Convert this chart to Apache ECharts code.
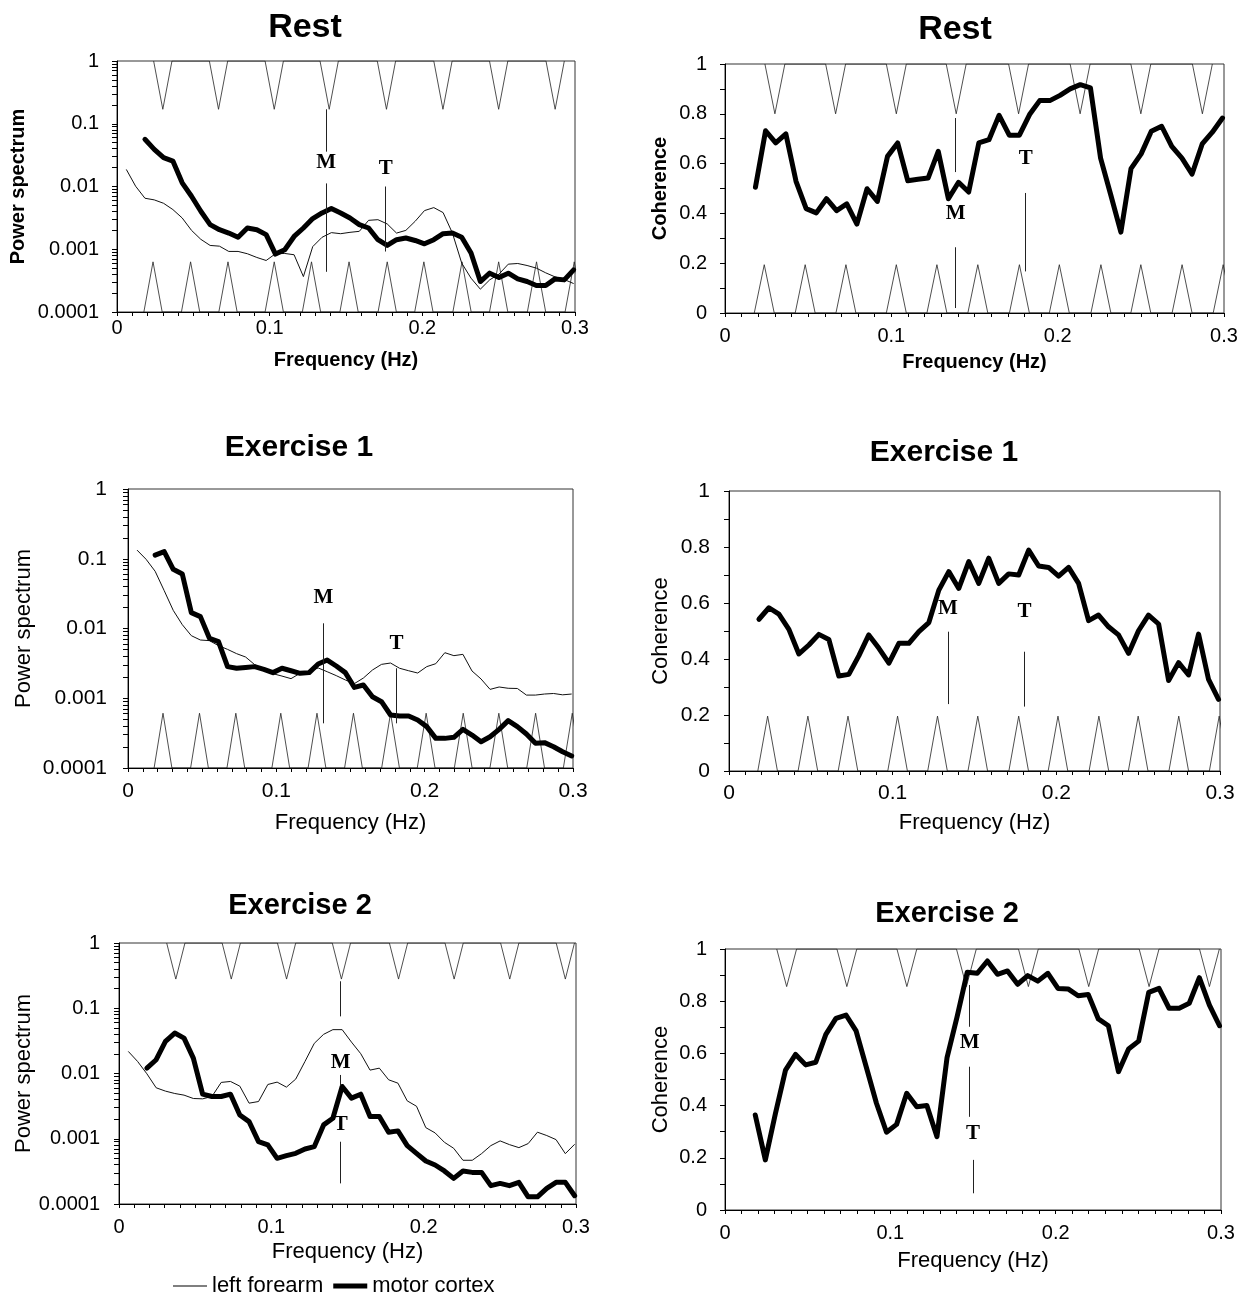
<!DOCTYPE html>
<html><head><meta charset="utf-8">
<script src="https://cdn.jsdelivr.net/npm/echarts@6/dist/echarts.min.js"></script>
<style>html,body{margin:0;padding:0;background:#fff}#c{width:1244px;height:1296px}</style>
</head><body><div id="c"></div>
<script>
// ---------- data ----------
const freqs = [0.0061,0.0122,0.0183,0.0244,0.0305,0.0366,0.0427,0.0488,0.0549,0.0610,0.0671,0.0732,0.0793,0.0854,0.0916,0.0977,0.1038,0.1099,0.1160,0.1221,0.1282,0.1343,0.1404,0.1465,0.1526,0.1587,0.1648,0.1709,0.1770,0.1831,0.1892,0.1953,0.2014,0.2075,0.2136,0.2197,0.2258,0.2319,0.2380,0.2441,0.2502,0.2563,0.2625,0.2686,0.2747,0.2808,0.2869,0.2930,0.2991];

const restPowerForearm = [0.0187,0.0101,0.0065,0.00612,0.0054,0.00429,0.00315,0.002,0.00144,0.00115,0.00112,0.000923,0.000923,0.000848,0.00074,0.000662,0.000848,0.000857,0.000817,0.000367,0.0011,0.00155,0.00184,0.00177,0.00186,0.00193,0.00289,0.00296,0.00253,0.00181,0.002,0.00279,0.00413,0.00461,0.00384,0.00181,0.000601,0.000346,0.000231,0.000325,0.000401,0.000579,0.000593,0.000551,0.0005,0.000421,0.000363,0.000329,0.000284];
const restPowerCortex = [null,null,0.0565,0.0391,0.0288,0.0254,0.01145,0.0070,0.00403,0.00247,0.00205,0.00181,0.00155,0.00218,0.00205,0.00171,0.000837,0.000982,0.0016,0.00218,0.00308,0.00379,0.00445,0.00379,0.00315,0.00247,0.00218,0.00142,0.00115,0.00142,0.00151,0.00138,0.00122,0.00142,0.00177,0.00181,0.00155,0.000869,0.000306,0.000416,0.000354,0.000416,0.000337,0.000306,0.000264,0.000264,0.000337,0.000325,0.00047];
const restCoherence = [null,null,0.505,0.732,0.683,0.719,0.529,0.419,0.402,0.459,0.411,0.438,0.357,0.499,0.448,0.629,0.683,0.531,0.537,0.542,0.649,0.459,0.525,0.486,0.683,0.696,0.794,0.714,0.714,0.797,0.853,0.853,0.874,0.900,0.917,0.904,0.622,0.475,0.325,0.580,0.639,0.730,0.750,0.669,0.622,0.558,0.679,0.726,0.783];

const ex1PowerForearm = [0.133,0.0982,0.0661,0.0349,0.0182,0.01135,0.00789,0.00684,0.0067,0.00568,0.00502,0.00436,0.0039,0.00303,0.00254,0.00225,0.00208,0.00191,0.00228,0.00243,0.00272,0.0024,0.00211,0.00183,0.00162,0.00195,0.00254,0.00306,0.0032,0.00269,0.00248,0.0023,0.00284,0.00313,0.0045,0.00408,0.00426,0.00246,0.00189,0.00134,0.00145,0.00139,0.00138,0.00111,0.00111,0.00115,0.00117,0.00112,0.00115];
const ex1PowerCortex = [null,null,0.113,0.1264,0.0705,0.0604,0.01687,0.01479,0.00723,0.00647,0.00284,0.00269,0.00277,0.00284,0.0026,0.00233,0.00269,0.00248,0.00228,0.00233,0.0031,0.00353,0.0029,0.00233,0.00143,0.00155,0.00105,0.000893,0.000575,0.000556,0.000556,0.000488,0.000392,0.000266,0.000266,0.000275,0.000358,0.000297,0.000238,0.000281,0.000358,0.000478,0.000392,0.000307,0.000226,0.000231,0.000202,0.000171,0.000149];
const ex1Coherence = [null,null,0.542,0.583,0.560,0.506,0.418,0.450,0.488,0.470,0.339,0.345,0.411,0.486,0.438,0.385,0.456,0.456,0.498,0.530,0.646,0.712,0.652,0.748,0.670,0.760,0.670,0.704,0.700,0.789,0.732,0.727,0.696,0.727,0.670,0.537,0.557,0.515,0.486,0.420,0.501,0.557,0.525,0.323,0.387,0.343,0.489,0.327,0.256];

const ex2PowerForearm = [0.0218,0.0153,0.0099,0.00604,0.00537,0.00494,0.00466,0.00414,0.00409,0.00444,0.0073,0.00755,0.0064,0.00351,0.00372,0.00679,0.00738,0.00618,0.0082,0.0153,0.029,0.0398,0.047,0.047,0.0303,0.0201,0.01127,0.01208,0.00801,0.00711,0.00381,0.00315,0.00148,0.00123,0.000883,0.000714,0.000468,0.000468,0.000591,0.000785,0.000927,0.000813,0.000731,0.000843,0.00126,0.00112,0.00097,0.000591,0.000822];
const ex2PowerCortex = [null,null,0.01208,0.01625,0.031,0.0417,0.0349,0.0172,0.00482,0.00444,0.00444,0.00482,0.00232,0.00183,0.000904,0.000804,0.000501,0.000551,0.000598,0.000697,0.000757,0.00163,0.00206,0.00632,0.00419,0.00482,0.00219,0.00219,0.00126,0.00132,0.000785,0.000598,0.000456,0.000396,0.000321,0.000247,0.000321,0.000305,0.000305,0.000191,0.000207,0.000191,0.000215,0.000129,0.000129,0.000174,0.000215,0.000215,0.000134];
const ex2Coherence = [null,null,0.364,0.192,0.370,0.536,0.596,0.556,0.566,0.673,0.734,0.747,0.686,0.549,0.409,0.298,0.328,0.447,0.396,0.400,0.281,0.584,0.741,0.911,0.907,0.954,0.903,0.916,0.865,0.898,0.877,0.907,0.849,0.847,0.821,0.826,0.732,0.706,0.530,0.617,0.647,0.834,0.849,0.773,0.773,0.792,0.890,0.785,0.706];

// periodic marker triangles (apex frequencies)
const heartFreqs = [0.0236,0.0482,0.0727,0.103,0.1274,0.152,0.177,0.201,0.226,0.25,0.2748,0.2995];
const respFreqsRest = [0.030,0.0665,0.103,0.139,0.1765,0.2135,0.250,0.287];
const respFreqsEx2 = [0.0373,0.0737,0.110,0.146,0.1835,0.220,0.2565,0.293];

// M / T annotation frequencies per panel
const markFreqRestPower = [0.137, 0.176];
const markFreqRestCoh = [0.1387, 0.1808];
const markFreqEx1Power = [0.1317, 0.181];
const markFreqEx1Coh = [0.1338, 0.1806];
const markFreqEx2Power = [0.1455, 0.1455];
const markFreqEx2Coh = [0.148, 0.150];

// tick labels
const freqTickLabels = ['0','0.1','0.2','0.3'];
const powerTickLabels = ['0.0001','0.001','0.01','0.1','1'];
const coherenceTickLabels = ['0','0.2','0.4','0.6','0.8','1'];
const powerDecades = [0.0001,0.001,0.01,0.1];
const powerMinorMult = [1,2,3,4,5,6,7,8,9];

// ---------- layout / style ----------
const FONT = 'Liberation Sans';
const panels = [
  {kind:'power', grid:[117,61,458,251], title:'Rest', tx:300, ty:6, ts:34, bold:true, ns:20, ls:20,
   yGap:89, xGap:38, xLm:6, yLm:18, thin:restPowerForearm, thick:restPowerCortex,
   top:respFreqsRest, topApex:0.17, bottom:heartFreqs, bottomApex:0.00063,
   mf:markFreqRestPower,
   marks:[{t:'M', at:0.0237, segs:[[0.17,0.0359],[0.0112,0.000437]]},{t:'T', at:0.0195, segs:[[0.01,0.00092]]}]},
  {kind:'coh', grid:[725,64,499,249], title:'Rest', tx:950, ty:8, ts:34, bold:true, ns:20, ls:20,
   yGap:55, xGap:39, xLm:13, yLm:18, thick:restCoherence,
   top:respFreqsRest, topApex:0.8, bottom:heartFreqs, bottomApex:0.194,
   mf:markFreqRestCoh,
   marks:[{t:'M', at:0.398, segs:[[0.783,0.566],[0.264,0.02]]},{t:'T', at:0.62, segs:[[0.482,0.167]]}]},
  {kind:'power', grid:[128,489,445,279], title:'Exercise 1', tx:294, ty:428, ts:30, bold:false, ns:22, ls:21,
   yGap:93, xGap:44, xLm:13, yLm:21, thin:ex1PowerForearm, thick:ex1PowerCortex,
   top:null, bottom:heartFreqs, bottomApex:0.00061,
   mf:markFreqEx1Power,
   marks:[{t:'M', at:0.0274, segs:[[0.01187,0.000437]]},{t:'T', at:0.006, segs:[[0.00269,0.000437]]}]},
  {kind:'coh', grid:[729,491,491,280], title:'Exercise 1', tx:939, ty:433, ts:30, bold:false, ns:22, ls:21,
   yGap:57, xGap:41, xLm:12, yLm:19, thick:ex1Coherence,
   top:null, bottom:heartFreqs, bottomApex:0.196,
   mf:markFreqEx1Coh,
   marks:[{t:'M', at:0.579, segs:[[0.4975,0.239]]},{t:'T', at:0.571, segs:[[0.426,0.23]]}]},
  {kind:'power', grid:[119,943,457,261], title:'Exercise 2', tx:295, ty:886, ts:29, bold:false, ns:22, ls:20,
   yGap:84, xGap:37, xLm:13, yLm:19, thin:ex2PowerForearm, thick:ex2PowerCortex,
   top:respFreqsEx2, topApex:0.28, bottom:null,
   mf:markFreqEx2Power,
   marks:[{t:'M', at:0.0146, segs:[[0.259,0.0751],[0.0095,0.0065]]},{t:'T', at:0.00163, segs:[[0.0009,0.000207]]}]},
  {kind:'coh', grid:[725,949,496,261], title:'Exercise 2', tx:942, ty:894, ts:29, bold:false, ns:22, ls:20,
   yGap:53, xGap:40, xLm:13, yLm:18, thick:ex2Coherence,
   top:respFreqsEx2, topApex:0.856, bottom:null,
   mf:markFreqEx2Coh,
   marks:[{t:'M', at:0.64, segs:[[0.862,0.702],[0.549,0.357]]},{t:'T', at:0.294, segs:[[0.192,0.064]]}]}
];

const HALF_W = 0.006;
function pairs(vals){ const out=[]; vals.forEach((v,i)=>{ if(v!=null) out.push([freqs[i], v]); }); return out; }
function triangles(apexes, base, peak){ const pts=[]; apexes.forEach(f=>{ pts.push([f-HALF_W,base],[f,peak],[f+HALF_W,base]); }); return pts; }

const powerTickValues = [];
powerDecades.forEach(d=>powerMinorMult.forEach(m=>powerTickValues.push(+(d*m).toPrecision(3))));
powerTickValues.push(1);

const grids=[], xAxes=[], yAxes=[], series=[], titles=[];
panels.forEach((p,i)=>{
  grids.push({left:p.grid[0], top:p.grid[1], width:p.grid[2], height:p.grid[3], show:true, borderColor:'#333', borderWidth:1, backgroundColor:'transparent'});
  titles.push({text:p.title, left:p.tx, top:p.ty, textAlign:'center', textStyle:{fontFamily:FONT, fontWeight:'bold', fontSize:p.ts, color:'#000'}});
  const nameStyle = {fontFamily:FONT, fontSize:p.ns, fontWeight:p.bold?'bold':'normal', color:'#000'};
  xAxes.push({type:'value', gridIndex:i, min:0, max:0.3, interval:0.1,
    name:'Frequency (Hz)', nameLocation:'middle', nameGap:p.xGap, nameTextStyle:nameStyle,
    axisLine:{show:true, onZero:false, lineStyle:{color:'#000', width:1}},
    axisTick:{show:true, length:4, lineStyle:{color:'#000'}},
    minorTick:{show:true, splitNumber:10, length:4, lineStyle:{color:'#000'}},
    splitLine:{show:false}, minorSplitLine:{show:false},
    axisLabel:{margin:p.xLm, fontFamily:FONT, fontSize:p.ls, color:'#000',
      formatter:v=>freqTickLabels[Math.round(v/0.1)]}});
  if(p.kind==='power'){
    yAxes.push({type:'log', logBase:10, gridIndex:i, min:0.0001, max:1,
      name:'Power spectrum', nameLocation:'middle', nameGap:p.yGap, nameRotate:90, nameTextStyle:nameStyle,
      axisLine:{show:true, onZero:false, lineStyle:{color:'#000', width:1}},
      axisTick:{show:true, length:5, customValues:powerTickValues, lineStyle:{color:'#000'}},
      splitLine:{show:false},
      axisLabel:{margin:p.yLm, fontFamily:FONT, fontSize:p.ls, color:'#000', customValues:[0.0001,0.001,0.01,0.1,1],
        formatter:v=>powerTickLabels[Math.round(Math.log10(v))+4]}});
  } else {
    yAxes.push({type:'value', gridIndex:i, min:0, max:1, interval:0.2,
      name:'Coherence', nameLocation:'middle', nameGap:p.yGap, nameRotate:90, nameTextStyle:nameStyle,
      axisLine:{show:true, onZero:false, lineStyle:{color:'#000', width:1}},
      axisTick:{show:true, length:5, lineStyle:{color:'#000'}},
      minorTick:{show:true, splitNumber:2, length:5, lineStyle:{color:'#000'}},
      splitLine:{show:false}, minorSplitLine:{show:false},
      axisLabel:{margin:p.yLm, fontFamily:FONT, fontSize:p.ls, color:'#000',
        formatter:v=>coherenceTickLabels[Math.round(v/0.2)]}});
  }
  const base = {type:'line', xAxisIndex:i, yAxisIndex:i, symbol:'none', showSymbol:false, animation:false, clip:true, emphasis:{disabled:true}, silent:true, itemStyle:{color:'#000'}};
  const lowBase = p.kind==='power' ? 0.0001 : 0;
  if(p.top) series.push(Object.assign({}, base, {name:'respiration', z:2, data:triangles(p.top, 1, p.topApex), lineStyle:{color:'#222', width:0.8}}));
  if(p.bottom) series.push(Object.assign({}, base, {name:'heart rate', z:2, data:triangles(p.bottom, lowBase, p.bottomApex), lineStyle:{color:'#222', width:0.8}}));
  if(p.thin) series.push(Object.assign({}, base, {name:'left forearm', z:3, data:pairs(p.thin), lineStyle:{color:'#111', width:1}}));
  const segs=[], pts=[];
  p.marks.forEach((m,j)=>{
    const f = p.mf[j];
    m.segs.forEach(s=>segs.push([{coord:[f,s[0]]},{coord:[f,s[1]]}]));
    pts.push({name:m.t, coord:[f,m.at]});
  });
  series.push(Object.assign({}, base, {name: p.kind==='power' ? 'motor cortex' : 'coherence', z:4,
    data:pairs(p.thick), lineStyle:{color:'#000', width:5, join:'round', cap:'round'},
    markLine:{silent:true, symbol:['none','none'], animation:false, label:{show:false}, emphasis:{disabled:true},
      lineStyle:{color:'#222', width:1, type:'solid'}, data:segs},
    markPoint:{silent:true, symbol:'circle', symbolSize:1, animation:false, itemStyle:{color:'rgba(0,0,0,0)'},
      label:{show:true, position:'inside', formatter:'{b}', fontFamily:'Liberation Serif', fontWeight:'bold', fontSize:21, color:'#000'},
      data:pts}}));
});

const chart = echarts.init(document.getElementById('c'), null, {renderer:'canvas'});
chart.setOption({
  backgroundColor:'#fff',
  animation:false,
  title:titles,
  grid:grids, xAxis:xAxes, yAxis:yAxes, series:series,
  legend:{left:168, top:1270, itemWidth:34, itemHeight:14, itemGap:10, selectedMode:false,
    textStyle:{fontFamily:FONT, fontSize:22, color:'#000'},
    data:[
      {name:'left forearm', icon:'path://M0,0H34V1.2H0Z', itemStyle:{color:'#000', borderWidth:0}},
      {name:'motor cortex', icon:'path://M0,0H34V5H0Z', itemStyle:{color:'#000', borderWidth:0}}
    ]}
});
</script></body></html>
